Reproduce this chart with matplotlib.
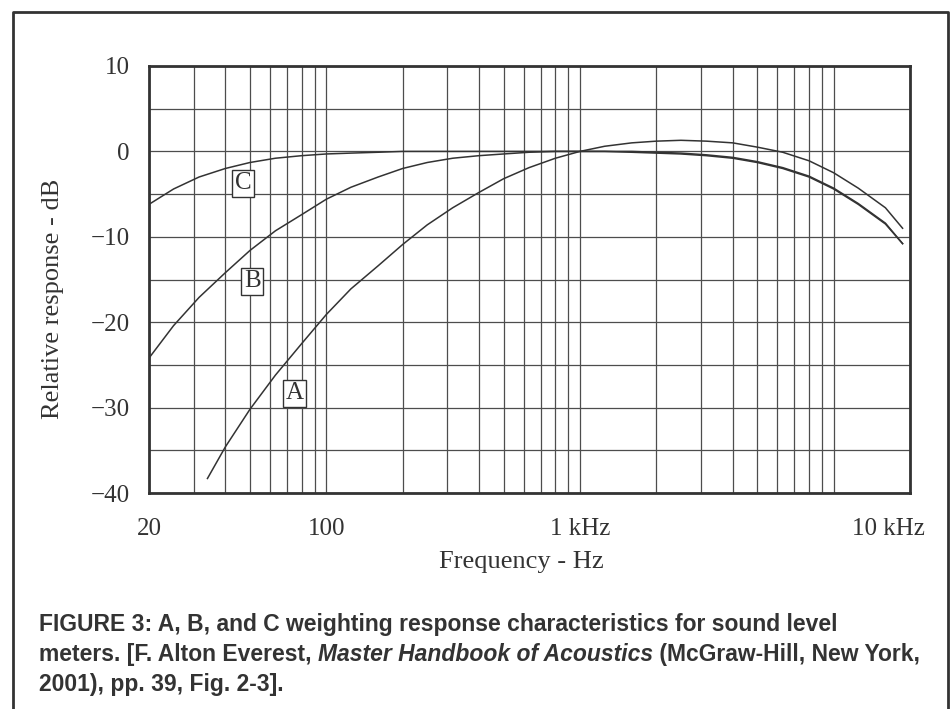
import matplotlib.pyplot as plt
from matplotlib.lines import Line2D
from matplotlib.ticker import FixedLocator, LogLocator, MultipleLocator, NullFormatter
from matplotlib.transforms import ScaledTranslation

# Weighting curves (Hz, dB)
FREQ_A = [34, 40, 50, 63, 80, 100, 125, 160, 200, 250, 315, 400, 500, 630,
          800, 1000, 1250, 1600, 2000, 2500, 3150, 4000, 5000, 6300, 8000,
          10000, 12500, 16000, 18700]
A_DB = [-38.3, -34.6, -30.2, -26.2, -22.5, -19.1, -16.1, -13.4, -10.9, -8.6,
        -6.6, -4.8, -3.2, -1.9, -0.8, 0.0, 0.6, 1.0, 1.2, 1.3, 1.2, 1.0, 0.5,
        -0.1, -1.1, -2.5, -4.3, -6.6, -9.0]

FREQ_BC = [20, 25, 31.5, 40, 50, 63, 80, 100, 125, 160, 200, 250, 315, 400,
           500, 630, 800, 1000, 1250, 1600, 2000, 2500, 3150, 4000, 5000,
           6300, 8000, 10000, 12500, 16000, 18700]
B_DB = [-24.2, -20.4, -17.1, -14.2, -11.6, -9.3, -7.4, -5.6, -4.2, -3.0, -2.0,
        -1.3, -0.8, -0.5, -0.3, -0.1, 0.0, 0.0, 0.0, 0.0, -0.1, -0.2, -0.4,
        -0.7, -1.2, -1.9, -2.9, -4.3, -6.1, -8.4, -10.8]
C_DB = [-6.2, -4.4, -3.0, -2.0, -1.3, -0.8, -0.5, -0.3, -0.2, -0.1, 0.0, 0.0,
        0.0, 0.0, 0.0, 0.0, 0.0, 0.0, 0.0, -0.1, -0.2, -0.3, -0.5, -0.8, -1.3,
        -2.0, -3.0, -4.4, -6.2, -8.5, -10.8]

# curve tags: (name, freq, dB)
TAGS = [("C", 47, -3.75), ("B", 51, -15.2), ("A", 75, -28.3)]

X_TICKS = [20, 100, 1000, 10000]
X_LABELS = ["20", "100", "1 kHz", "10 kHz"]
Y_TICKS = [10, 0, -10, -20, -30, -40]

CAPTION_1 = "FIGURE 3: A, B, and C weighting response characteristics for sound level"
CAPTION_2 = ["meters. [F. Alton Everest, ", "Master Handbook of Acoustics",
             " (McGraw-Hill, New York,"]
CAPTION_3 = "2001), pp. 39, Fig. 2-3]."

INK = "#333333"
GRID = "#4d4d4d"
SERIF = ["Liberation Serif", "DejaVu Serif"]
SANS = ["Liberation Sans", "DejaVu Sans"]

W, H = 951, 709
fig = plt.figure(figsize=(W / 100, H / 100), dpi=100)
ax = fig.add_axes([149 / W, 1 - 493 / H, 761 / W, 427 / H])

for freq, db in [(FREQ_A, A_DB), (FREQ_BC, B_DB), (FREQ_BC, C_DB)]:
    ax.plot(freq, db, color=INK, lw=1.1, zorder=3)

ax.set_xscale("log")
ax.set_xlim(20, 20000)
ax.set_ylim(-40, 10)

ax.xaxis.set_major_locator(FixedLocator(X_TICKS))
ax.set_xticklabels(X_LABELS)
ax.xaxis.set_minor_locator(LogLocator(base=10, subs=range(1, 10)))
ax.xaxis.set_minor_formatter(NullFormatter())
ax.yaxis.set_major_locator(FixedLocator(Y_TICKS))
ax.yaxis.set_minor_locator(MultipleLocator(5))

ax.grid(True, which="both", color=GRID, lw=0.9)
ax.tick_params(which="both", length=0, labelcolor=INK)
ax.tick_params(axis="x", pad=18, labelsize=18)
ax.tick_params(axis="y", pad=14, labelsize=18)
for lab in ax.get_xticklabels() + ax.get_yticklabels():
    lab.set_family(SERIF)

# the "10 kHz" label sits right of its grid line in the original
ax.get_xticklabels()[-1].set_transform(
    ax.get_xticklabels()[-1].get_transform()
    + ScaledTranslation(0.55, 0, fig.dpi_scale_trans))

for sp in ax.spines.values():
    sp.set_color(INK)
    sp.set_linewidth(2.0)

for name, f, db in TAGS:
    ax.text(f, db, name, ha="center", va="center", fontsize=18, family=SERIF,
            color=INK, zorder=4,
            bbox=dict(boxstyle="square,pad=0.1", fc="white", ec=INK, lw=1.0))

fig.text(521 / W, 1 - 562 / H, "Frequency - Hz", ha="center", va="center",
         fontsize=19, family=SERIF, color=INK)
fig.text(53 / W, 1 - 299 / H, "Relative response - dB", ha="center",
         va="center", rotation=90, fontsize=19, family=SERIF, color=INK)

# open-bottomed frame around the figure
fig.add_artist(Line2D([13 / W, 13 / W, 948 / W, 948 / W],
                      [0, 1 - 12 / H, 1 - 12 / H, 0],
                      transform=fig.transFigure, color=INK, lw=2.0))

cap = dict(fontsize=16.5, fontweight="bold", color=INK, va="baseline", ha="left")
x0 = 39 / W
fig.text(x0, 1 - 631 / H, CAPTION_1, family=SANS, **cap)
fig.text(x0, 1 - 691 / H, CAPTION_3, family=SANS, **cap)

renderer = fig.canvas.get_renderer()
x = x0
for i, part in enumerate(CAPTION_2):
    t = fig.text(x, 1 - 661 / H, part, family=SANS,
                 style="italic" if i == 1 else "normal", **cap)
    bb = t.get_window_extent(renderer)
    x = bb.x1 / W

fig.savefig("out.png", dpi=100)
